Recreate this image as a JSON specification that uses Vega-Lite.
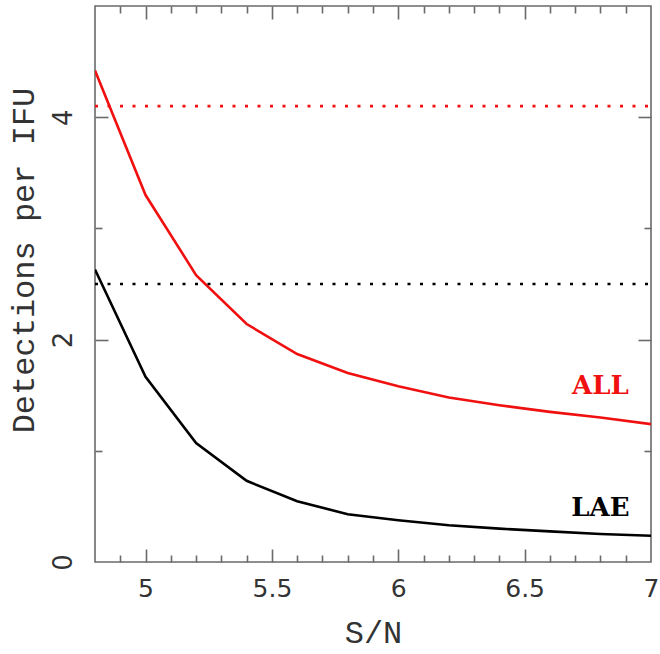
{
  "$schema": "https://vega.github.io/schema/vega-lite/v6.json",
  "width": 556,
  "height": 556,
  "autosize": {"type": "none"},
  "padding": {"left": 95, "top": 6, "right": 9, "bottom": 92},
  "background": "white",
  "config": {
    "view": {"stroke": "#6a6a6a", "strokeWidth": 1.6},
    "axis": {"grid": false, "domain": false, "tickColor": "#6a6a6a", "tickWidth": 1.6, "labelColor": "#333333", "titleColor": "#333333"}
  },
  "datasets": {
    "curves": [
      {"sn": 4.8, "n": 4.42, "sample": "ALL"},
      {"sn": 5.0, "n": 3.30, "sample": "ALL"},
      {"sn": 5.2, "n": 2.58, "sample": "ALL"},
      {"sn": 5.4, "n": 2.14, "sample": "ALL"},
      {"sn": 5.6, "n": 1.87, "sample": "ALL"},
      {"sn": 5.8, "n": 1.70, "sample": "ALL"},
      {"sn": 6.0, "n": 1.58, "sample": "ALL"},
      {"sn": 6.2, "n": 1.48, "sample": "ALL"},
      {"sn": 6.4, "n": 1.41, "sample": "ALL"},
      {"sn": 6.6, "n": 1.35, "sample": "ALL"},
      {"sn": 6.8, "n": 1.30, "sample": "ALL"},
      {"sn": 7.0, "n": 1.24, "sample": "ALL"},
      {"sn": 4.8, "n": 2.63, "sample": "LAE"},
      {"sn": 5.0, "n": 1.666, "sample": "LAE"},
      {"sn": 5.2, "n": 1.07, "sample": "LAE"},
      {"sn": 5.4, "n": 0.73, "sample": "LAE"},
      {"sn": 5.6, "n": 0.546, "sample": "LAE"},
      {"sn": 5.8, "n": 0.43, "sample": "LAE"},
      {"sn": 6.0, "n": 0.375, "sample": "LAE"},
      {"sn": 6.2, "n": 0.33, "sample": "LAE"},
      {"sn": 6.4, "n": 0.30, "sample": "LAE"},
      {"sn": 6.6, "n": 0.275, "sample": "LAE"},
      {"sn": 6.8, "n": 0.252, "sample": "LAE"},
      {"sn": 7.0, "n": 0.236, "sample": "LAE"}
    ],
    "levels": [
      {"sn": 4.8, "n": 4.10, "sample": "ALL"},
      {"sn": 7.0, "n": 4.10, "sample": "ALL"},
      {"sn": 4.8, "n": 2.50, "sample": "LAE"},
      {"sn": 7.0, "n": 2.50, "sample": "LAE"}
    ],
    "labels": [
      {"sn": 6.8, "n": 1.58, "sample": "ALL"},
      {"sn": 6.8, "n": 0.485, "sample": "LAE"}
    ]
  },
  "resolve": {"axis": {"x": "independent", "y": "independent"}},
  "layer": [
    {
      "data": {"name": "curves"},
      "transform": [{"filter": "datum.sample === 'ALL'"}],
      "mark": {"type": "line", "color": "#f01010", "strokeWidth": 2.6, "clip": true},
      "encoding": {
        "x": {"field": "sn", "type": "quantitative", "scale": {"domain": [4.8, 7], "nice": false, "zero": false},
          "axis": {"orient": "bottom", "values": [5, 5.5, 6, 6.5, 7], "format": "~g", "ticks": false, "labels": true,
            "labelFont": "DejaVu Sans", "labelFontSize": 25, "labelPadding": 14, "labelFlush": false,
            "title": "S/N", "titleFont": "Liberation Mono", "titleFontSize": 32, "titleFontWeight": "normal",
            "titleBaseline": "alphabetic", "titleY": 80}},
        "y": {"field": "n", "type": "quantitative", "scale": {"domain": [0, 5], "nice": false, "zero": false},
          "axis": {"orient": "left", "values": [0, 2, 4], "format": "~g", "ticks": false, "labels": true,
            "labelFont": "DejaVu Sans", "labelFontSize": 26, "labelAngle": -90, "labelAlign": "center", "labelBaseline": "bottom", "labelPadding": 19, "labelFlush": false,
            "title": "Detections per IFU", "titleFont": "Liberation Mono", "titleFontSize": 32, "titleFontWeight": "normal",
            "titleAngle": -90, "titleBaseline": "alphabetic", "titleAlign": "center", "titleX": -62, "titleY": 254}}
      }
    },
    {
      "data": {"name": "curves"},
      "transform": [{"filter": "datum.sample === 'LAE'"}],
      "mark": {"type": "line", "color": "#000000", "strokeWidth": 2.6, "clip": true},
      "encoding": {
        "x": {"field": "sn", "type": "quantitative",
          "axis": {"orient": "bottom", "values": [5, 5.5, 6, 6.5], "tickSize": -13, "labels": false, "title": null}},
        "y": {"field": "n", "type": "quantitative",
          "axis": {"orient": "left", "values": [2, 4], "tickSize": -13, "labels": false, "title": null}}
      }
    },
    {
      "data": {"name": "levels"},
      "transform": [{"filter": "datum.sample === 'ALL'"}],
      "mark": {"type": "line", "color": "#f01010", "strokeWidth": 2.6, "strokeDash": [3, 9.5], "clip": true},
      "encoding": {
        "x": {"field": "sn", "type": "quantitative",
          "axis": {"orient": "bottom", "values": [4.9, 5.1, 5.2, 5.3, 5.4, 5.6, 5.7, 5.8, 5.9, 6.1, 6.2, 6.3, 6.4, 6.6, 6.7, 6.8, 6.9], "tickSize": -7, "labels": false, "title": null}},
        "y": {"field": "n", "type": "quantitative",
          "axis": {"orient": "left", "values": [1, 3], "tickSize": -7, "labels": false, "title": null}}
      }
    },
    {
      "data": {"name": "levels"},
      "transform": [{"filter": "datum.sample === 'LAE'"}],
      "mark": {"type": "line", "color": "#000000", "strokeWidth": 2.6, "strokeDash": [3, 9.5], "clip": true},
      "encoding": {
        "x": {"field": "sn", "type": "quantitative",
          "axis": {"orient": "top", "values": [5, 5.5, 6, 6.5], "tickSize": -13, "labels": false, "title": null}},
        "y": {"field": "n", "type": "quantitative",
          "axis": {"orient": "right", "values": [2, 4], "tickSize": -13, "labels": false, "title": null}}
      }
    },
    {
      "data": {"name": "labels"},
      "transform": [{"filter": "datum.sample === 'ALL'"}],
      "mark": {"type": "text", "color": "#f01010", "font": "DejaVu Serif", "fontWeight": "bold", "fontSize": 26, "align": "center", "baseline": "middle"},
      "encoding": {
        "x": {"field": "sn", "type": "quantitative",
          "axis": {"orient": "top", "values": [4.9, 5.1, 5.2, 5.3, 5.4, 5.6, 5.7, 5.8, 5.9, 6.1, 6.2, 6.3, 6.4, 6.6, 6.7, 6.8, 6.9], "tickSize": -7, "labels": false, "title": null}},
        "y": {"field": "n", "type": "quantitative",
          "axis": {"orient": "right", "values": [1, 3], "tickSize": -7, "labels": false, "title": null}},
        "text": {"field": "sample"}
      }
    },
    {
      "data": {"name": "labels"},
      "transform": [{"filter": "datum.sample === 'LAE'"}],
      "mark": {"type": "text", "color": "#000000", "font": "DejaVu Serif", "fontWeight": "bold", "fontSize": 26, "align": "center", "baseline": "middle"},
      "encoding": {
        "x": {"field": "sn", "type": "quantitative", "axis": null},
        "y": {"field": "n", "type": "quantitative", "axis": null},
        "text": {"field": "sample"}
      }
    }
  ]
}
